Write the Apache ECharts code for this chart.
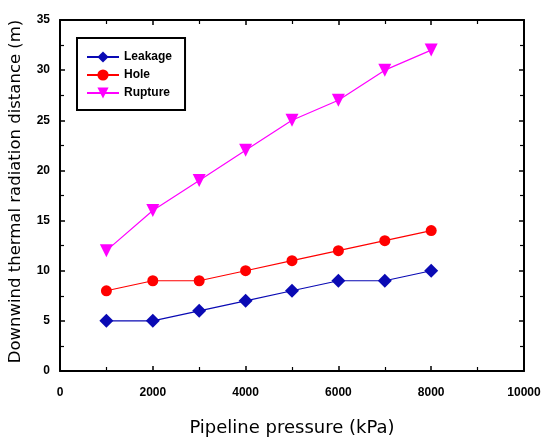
<!DOCTYPE html>
<html>
<head>
<meta charset="utf-8">
<script src="https://cdn.jsdelivr.net/npm/echarts@6/dist/echarts.min.js"></script>
<style>
	html, body { margin: 0; padding: 0; background: #fff; }
	#chart { width: 543px; height: 437px; }
</style>
</head>
<body>
<div id="chart"></div>
<script>
// data
var pressure = [1000, 2000, 3000, 4000, 5000, 6000, 7000, 8000];
var leakage = [5, 5, 6, 7, 8, 9, 9, 10];
var hole = [8, 9, 9, 10, 11, 12, 13, 14];
var rupture = [12, 16, 19, 22, 25, 27, 30, 32];

function pairs(ys){
	var out = [];
	for(var i=0; i<pressure.length; i++){
		out.push([pressure[i], ys[i]]);
	}
	return out;
}

var myChart = echarts.init(document.getElementById('chart'));

var axisLine = { show: true, onZero: false, lineStyle: { color: '#000', width: 2 } };
var tickIn = { show: true, inside: true, length: 5, lineStyle: { color: '#000', width: 1.5 } };
var minorIn = { show: true, splitNumber: 2, length: 4, lineStyle: { color: '#000', width: 1.2 } };
var lbl = { color: '#000', fontFamily: 'Arial, Liberation Sans', fontWeight: 'bold', fontSize: 12, formatter: function(v){ return String(v); } };

var option = {
	backgroundColor: '#fff',
	animation: false,
	grid: { left: 60, right: 19, top: 20, bottom: 66, containLabel: false, outerBoundsMode: 'none' },
	legend: {
		left: 77,
		top: 38,
		orient: 'vertical',
		padding: [13, 13, 11, 9],
		itemGap: 6,
		itemWidth: 32,
		itemHeight: 14,
		borderColor: '#000',
		borderWidth: 2,
		textStyle: { color: '#000', fontFamily: 'Arial, Liberation Sans', fontWeight: 'bold', fontSize: 12 },
		data: ['Leakage', 'Hole', 'Rupture']
	},
	xAxis: [
		{
			type: 'value',
			min: 0, max: 10000, interval: 2000,
			name: 'Pipeline pressure (kPa)',
			nameLocation: 'middle',
			nameGap: 48,
			nameTextStyle: { color: '#000', fontFamily: 'DejaVu Sans', fontSize: 18 },
			axisLine: axisLine,
			axisTick: tickIn,
			minorTick: minorIn,
			axisLabel: Object.assign({ margin: 16 }, lbl),
			splitLine: { show: false }
		},
		{
			type: 'value', position: 'top',
			min: 0, max: 10000, interval: 2000,
			axisLine: axisLine,
			axisTick: tickIn,
			minorTick: minorIn,
			axisLabel: { show: false },
			splitLine: { show: false }
		}
	],
	yAxis: [
		{
			type: 'value',
			min: 0, max: 35, interval: 5,
			name: 'Downwind thermal radiation distance (m)',
			nameLocation: 'middle',
			nameGap: 36,
			nameTextStyle: { color: '#000', fontFamily: 'DejaVu Sans', fontSize: 16.5, padding: [0, 0, 0, 8] },
			axisLine: axisLine,
			axisTick: tickIn,
			minorTick: minorIn,
			axisLabel: Object.assign({ margin: 10 }, lbl),
			splitLine: { show: false }
		},
		{
			type: 'value', position: 'right',
			min: 0, max: 35, interval: 5,
			axisLine: axisLine,
			axisTick: tickIn,
			minorTick: minorIn,
			axisLabel: { show: false },
			splitLine: { show: false }
		}
	],
	series: [
		{
			name: 'Leakage', type: 'line',
			data: pairs(leakage),
			symbol: 'diamond', symbolSize: 14,
			itemStyle: { color: '#0a0ab4' },
			lineStyle: { color: '#0a0ab4', width: 1.2 }
		},
		{
			name: 'Hole', type: 'line',
			data: pairs(hole),
			symbol: 'circle', symbolSize: 11,
			itemStyle: { color: '#ff0000' },
			lineStyle: { color: '#ff0000', width: 1.2 }
		},
		{
			name: 'Rupture', type: 'line',
			data: pairs(rupture),
			symbol: 'triangle', symbolSize: 13, symbolRotate: 180,
			itemStyle: { color: '#ff00ff' },
			lineStyle: { color: '#ff00ff', width: 1.2 }
		}
	]
};

myChart.setOption(option);
</script>
</body>
</html>
